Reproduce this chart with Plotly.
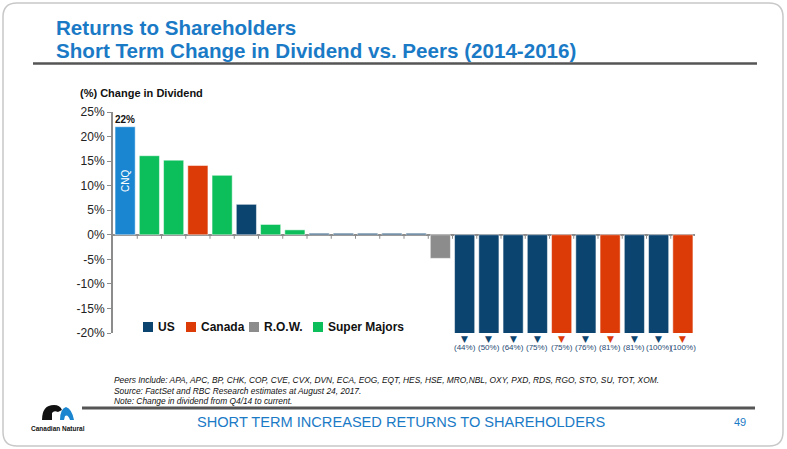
import plotly.graph_objects as go

# ---------------- data ----------------
categories = ["CNQ"] + [f"Peer {i}" for i in range(1, 24)]
groups = ["CNQ", "Super Majors", "Super Majors", "Canada", "Super Majors", "US",
          "Super Majors", "Super Majors", "US", "US", "US", "US", "US", "R.O.W.",
          "US", "US", "US", "US", "Canada", "US", "Canada", "US", "US", "Canada"]
values = [22, 16.1, 15.2, 14.1, 12.1, 6.2, 2.1, 1.0, 0.3, 0.3, 0.3, 0.3, 0.3, -4.8,
          -44, -50, -64, -75, -75, -76, -81, -81, -100, -100]
legend_groups = ["US", "Canada", "R.O.W.", "Super Majors"]
colors = {"US": "#0c4470", "Canada": "#dc3b08", "R.O.W.": "#8c8c8c",
          "Super Majors": "#0cbf5b", "CNQ": "#1a86d2"}
y_ticks = [-20, -15, -10, -5, 0, 5, 10, 15, 20, 25]
y_tick_text = [f"{v}%" for v in y_ticks]
footnotes = [
    "Peers Include: APA, APC, BP, CHK, COP, CVE, CVX, DVN, ECA, EOG, EQT, HES, HSE, MRO,NBL, OXY, PXD, RDS, RGO, STO, SU, TOT, XOM.",
    "Source: FactSet and RBC Research estimates at August 24, 2017.",
    "Note: Change in dividend from Q4/14 to current.",
]

W, H = 787, 449
L, R, T, B = 113, 92, 112, 116
PW, PH = W - L - R, H - T - B
Y_MIN, Y_MAX = -20, 25

def px(x):
    return (x - L) / PW

def py(y):
    return (H - B - y) / PH

ARIAL = "Liberation Sans, Arial, sans-serif"
BLUE_T = "#1a7ac6"

fig = go.Figure()

# CNQ bar
cx = [c for c, g in zip(categories, groups) if g == "CNQ"]
cy = [v for v, g in zip(values, groups) if g == "CNQ"]
fig.add_trace(go.Bar(x=cx, y=cy, marker_color=colors["CNQ"], showlegend=False, name="CNQ",
                     text=cx, textposition="inside", insidetextanchor="middle",
                     textangle=-90, textfont=dict(color="white", size=10, family=ARIAL),
                     marker_line=dict(color="white", width=0.5)))
for g in legend_groups:
    xs = [c for c, gg in zip(categories, groups) if gg == g]
    ys = [v for v, gg in zip(values, groups) if gg == g]
    fig.add_trace(go.Bar(x=xs, y=ys, name=g, marker_color=colors[g], showlegend=False,
                         marker_line=dict(color="white", width=0.5)))

annotations = []
shapes = []
# CNQ value label
annotations.append(dict(x=cx[0], y=cy[0], yshift=7, text=f"<b>{cy[0]:.0f}%</b>", showarrow=False,
                        font=dict(size=10, color="#111", family=ARIAL)))
# clipped negative bars: arrows + labels
for c, g, v in zip(categories, groups, values):
    if v < Y_MIN:
        annotations.append(dict(x=c, y=Y_MIN, yshift=-6, text="▼", showarrow=False,
                                font=dict(size=9, color=colors[g], family="DejaVu Sans")))
        annotations.append(dict(x=c, y=Y_MIN, yshift=-14, text=f"({abs(v):.0f}%)", showarrow=False,
                                font=dict(size=8, color="#1f4a73", family=ARIAL)))

# manual legend (key squares + bold labels)
legend_x = [143, 186, 249, 313]
for g, lx in zip(legend_groups, legend_x):
    shapes.append(dict(type="rect", xref="paper", yref="paper", x0=px(lx), x1=px(lx + 10),
                       y0=py(332), y1=py(322), fillcolor=colors[g], line=dict(width=0)))
    annotations.append(dict(xref="paper", yref="paper", x=px(lx + 13), y=py(327), xanchor="left",
                            yanchor="middle", text=f"<b>{g}</b>", showarrow=False,
                            font=dict(size=12, color="#111", family=ARIAL)))

# y-axis title
annotations.append(dict(xref="paper", yref="paper", x=px(78), y=py(93), xanchor="left",
                        yanchor="middle", text="<b>(%) Change in Dividend</b>", showarrow=False,
                        font=dict(size=11, color="#111", family=ARIAL)))
# Titles
annotations.append(dict(xref="paper", yref="paper", x=px(54), y=py(27), xanchor="left",
                        yanchor="middle", text="<b>Returns to Shareholders</b>", showarrow=False,
                        font=dict(size=20.6, color=BLUE_T, family=ARIAL)))
annotations.append(dict(xref="paper", yref="paper", x=px(54), y=py(50), xanchor="left",
                        yanchor="middle", text="<b>Short Term Change in Dividend vs. Peers (2014-2016)</b>",
                        showarrow=False, font=dict(size=20.6, color=BLUE_T, family=ARIAL)))
# footnotes
for i, t in enumerate(footnotes):
    annotations.append(dict(xref="paper", yref="paper", x=px(112), y=py(380 + i * 10.7),
                            xanchor="left", yanchor="middle", text=f"<i>{t}</i>", showarrow=False,
                            font=dict(size=8.4, color="#111", family=ARIAL)))
# footer
annotations.append(dict(xref="paper", yref="paper", x=px(401), y=py(422), xanchor="center",
                        yanchor="middle", text="SHORT TERM INCREASED RETURNS TO SHAREHOLDERS",
                        showarrow=False, font=dict(size=14.6, color=BLUE_T, family=ARIAL)))
annotations.append(dict(xref="paper", yref="paper", x=px(740), y=py(422), xanchor="center",
                        yanchor="middle", text="49", showarrow=False,
                        font=dict(size=11, color=BLUE_T, family=ARIAL)))
annotations.append(dict(xref="paper", yref="paper", x=px(58), y=py(428), xanchor="center",
                        yanchor="middle", text="<b>Canadian Natural</b>", showarrow=False,
                        font=dict(size=6.5, color="#111", family=ARIAL)))

# category boundary ticks on the zero line
for i in range(len(categories) - 1):
    shapes.append(dict(type="line", xref="x", yref="y", x0=i + 0.5, x1=i + 0.5,
                       ysizemode="pixel", yanchor=0, y0=0, y1=-4,
                       line=dict(color="#8c8c8c", width=1)))

def P(x, y):
    return f"{px(x):.5f},{py(y):.5f}"

# page border (rounded rectangle)
x0, y0, x1, y1, r = 3, 3, 783, 446, 14
path = (f"M{P(x0 + r, y0)} L{P(x1 - r, y0)} Q{P(x1, y0)} {P(x1, y0 + r)} "
        f"L{P(x1, y1 - r)} Q{P(x1, y1)} {P(x1 - r, y1)} L{P(x0 + r, y1)} "
        f"Q{P(x0, y1)} {P(x0, y1 - r)} L{P(x0, y0 + r)} Q{P(x0, y0)} {P(x0 + r, y0)} Z")
shapes.append(dict(type="path", xref="paper", yref="paper", path=path,
                   line=dict(color="#c8c8c8", width=1.5), layer="below"))
# title rule
shapes.append(dict(type="line", xref="paper", yref="paper", x0=px(33), x1=px(757),
                   y0=py(63.5), y1=py(63.5), line=dict(color="#555555", width=2.5)))
# footer rule
shapes.append(dict(type="line", xref="paper", yref="paper", x0=px(82), x1=px(755),
                   y0=py(408), y1=py(408), line=dict(color="#555555", width=3)))
# logo shapes
logo_black = (f"M{P(42, 420)} Q{P(42, 405)} {P(54, 405)} Q{P(60, 405)} {P(62, 410)} "
              f"L{P(58, 412)} Q{P(54, 410)} {P(52, 413)} L{P(52, 420)} Z")
shapes.append(dict(type="path", xref="paper", yref="paper", path=logo_black,
                   fillcolor="#111111", line=dict(width=0)))
logo_blue = (f"M{P(60, 420)} Q{P(60, 409)} {P(66, 407)} Q{P(72, 409)} {P(74, 420)} "
             f"L{P(70, 420)} Q{P(68, 414)} {P(65, 416)} L{P(64, 420)} Z")
shapes.append(dict(type="path", xref="paper", yref="paper", path=logo_blue,
                   fillcolor="#1b86cf", line=dict(width=0)))

fig.update_layout(
    width=W, height=H,
    margin=dict(l=L, r=R, t=T, b=B),
    paper_bgcolor="white", plot_bgcolor="white",
    barmode="overlay", bargap=0.17,
    showlegend=False,
    xaxis=dict(categoryorder="array", categoryarray=categories, range=[-0.5, len(categories) - 0.5],
               showticklabels=False, showgrid=False, showline=False, zeroline=False, ticks=""),
    yaxis=dict(range=[Y_MIN, Y_MAX], tickmode="array", tickvals=y_ticks, ticktext=y_tick_text,
               showgrid=False, showline=True, linecolor="#8c8c8c", linewidth=2,
               ticks="outside", ticklen=4, tickcolor="#8c8c8c",
               zeroline=True, zerolinecolor="#8c8c8c", zerolinewidth=2,
               tickfont=dict(size=12, color="#222", family=ARIAL)),
    annotations=annotations,
    shapes=shapes,
    font=dict(family=ARIAL),
)

fig.write_html("out.html", config={"displayModeBar": False},
               post_script="document.body.style.margin='0';")
